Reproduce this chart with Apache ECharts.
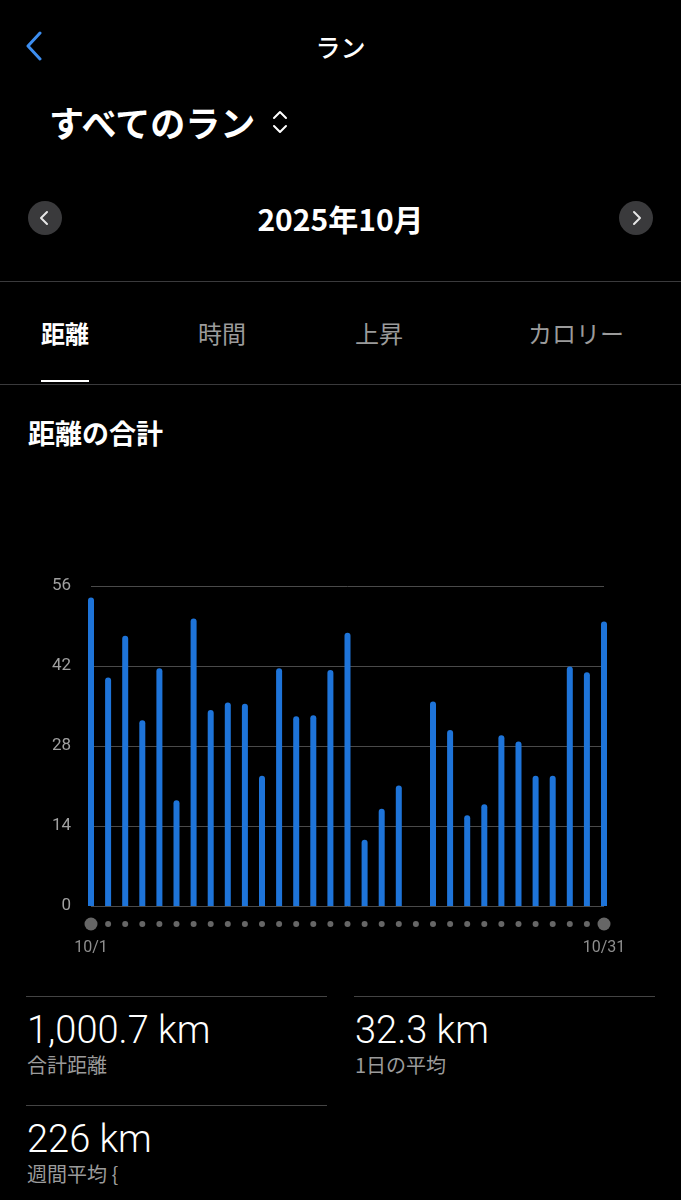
<!DOCTYPE html>
<html>
<head>
<meta charset="utf-8">
<script src="https://cdn.jsdelivr.net/npm/echarts@6/dist/echarts.min.js"></script>
<style>
  html, body { margin: 0; padding: 0; background: #000; }
  body { width: 681px; height: 1200px; position: relative; overflow: hidden;
    font-family: "Noto Sans CJK JP", Roboto, sans-serif; color: #fff; }
  .abs { position: absolute; white-space: nowrap; }
  .line { position: absolute; height: 1px; background: #3a3a3c; }
  .circle { position: absolute; width: 34px; height: 34px; border-radius: 50%; background: #3a3a3c; }
  .num { font-family: Roboto, "Noto Sans", sans-serif; font-weight: 300; font-size: 38px; line-height: 1; }
  .sub { font-size: 20px; color: #9b9b9b; line-height: 1; }
  #chart { position: absolute; left: 0; top: 460px; width: 681px; height: 520px; }
</style>
</head>
<body>
  <svg class="abs" style="left:24px;top:31px" width="20" height="30"><polyline points="16,2 4,15 16,28" fill="none" stroke="#3d8ef0" stroke-width="3" stroke-linecap="round" stroke-linejoin="round"/></svg>
  <div class="abs" style="left:0;width:681px;text-align:center;top:30px;font-size:25px;font-weight:500;line-height:32px">ラン</div>

  <div class="abs" style="left:49px;top:100px;font-size:35px;font-weight:700;line-height:44px">すべてのラン</div>
  <svg class="abs" style="left:271px;top:109px" width="18" height="26"><polyline points="3,9 9,3 15,9" fill="none" stroke="#fff" stroke-width="2" stroke-linecap="round" stroke-linejoin="round"/><polyline points="3,17 9,23 15,17" fill="none" stroke="#fff" stroke-width="2" stroke-linecap="round" stroke-linejoin="round"/></svg>

  <div class="circle" style="left:28px;top:201px"></div>
  <svg class="abs" style="left:28px;top:201px" width="34" height="34"><polyline points="19,11 13,17 19,23" fill="none" stroke="#e6e6e6" stroke-width="2" stroke-linecap="round" stroke-linejoin="round"/></svg>
  <div class="circle" style="left:619px;top:201px"></div>
  <svg class="abs" style="left:619px;top:201px" width="34" height="34"><polyline points="15,11 21,17 15,23" fill="none" stroke="#e6e6e6" stroke-width="2" stroke-linecap="round" stroke-linejoin="round"/></svg>
  <div class="abs" style="left:0;width:681px;text-align:center;top:200px;font-size:30px;font-weight:600;line-height:36px">2025年10月</div>

  <div class="line" style="left:0;width:681px;top:281px"></div>
  <div class="abs" style="left:41px;top:318px;font-size:24px;font-weight:700;line-height:30px">距離</div>
  <div class="abs" style="left:198px;top:318px;font-size:24px;color:#9b9b9b;line-height:30px">時間</div>
  <div class="abs" style="left:355px;top:318px;font-size:24px;color:#9b9b9b;line-height:30px">上昇</div>
  <div class="abs" style="left:528px;top:318px;font-size:24px;color:#9b9b9b;line-height:30px">カロリー</div>
  <div class="abs" style="left:41px;top:380px;width:48px;height:2px;background:#fff"></div>
  <div class="line" style="left:0;width:681px;top:384px"></div>

  <div class="abs" style="left:28px;top:416px;font-size:27px;font-weight:700;line-height:33px">距離の合計</div>

  <div id="chart"></div>

  <div class="line" style="left:26px;width:301px;top:996px;background:#444"></div>
  <div class="line" style="left:354px;width:301px;top:996px;background:#444"></div>
  <div class="abs num" style="left:27px;top:1011px">1,000.7 km</div>
  <div class="abs sub" style="left:27px;top:1055px">合計距離</div>
  <div class="abs num" style="left:355px;top:1011px">32.3 km</div>
  <div class="abs sub" style="left:355px;top:1055px">1日の平均</div>
  <div class="line" style="left:26px;width:301px;top:1105px;background:#444"></div>
  <div class="abs num" style="left:27px;top:1120px">226 km</div>
  <div class="abs sub" style="left:27px;top:1164px">週間平均 {</div>

<script>
// daily distance, October 2025 (km)
const days = Array.from({ length: 31 }, (_, i) => i + 1)
const dayLabels = days.map(d => `10/${d}`)
const distances = [
  54.0, 40.0, 47.3, 32.5, 41.6, 18.5, 50.3, 34.3, 35.6, 35.4,
  22.8, 41.6, 33.2, 33.4, 41.3, 47.8, 11.6, 17.0, 21.1, 0,
  35.8, 30.8, 15.9, 17.8, 29.9, 28.8, 22.8, 22.8, 41.9, 40.9, 49.8,
]
const yTicks = [0, 14, 28, 42, 56]

const chart = echarts.init(document.getElementById('chart'))
chart.setOption({
  backgroundColor: 'transparent',
  animation: false,
  grid: [
    { left: 91, right: 77, top: 126, height: 320 },
    { left: 91, right: 77, top: 454, height: 20 },
  ],
  xAxis: [
    { gridIndex: 0, type: 'value', min: 1, max: 31, show: false },
    {
      gridIndex: 1,
      type: 'category',
      boundaryGap: false,
      data: dayLabels,
      axisLine: { show: false },
      axisTick: { show: false },
      axisLabel: {
        interval: (i) => i === 0 || i === 30,
        color: '#8e8e8e',
        fontSize: 16,
        margin: 6,
        fontFamily: 'Roboto, sans-serif',
      },
    },
  ],
  yAxis: [
    {
      gridIndex: 0,
      type: 'value',
      min: yTicks[0],
      max: yTicks[yTicks.length - 1],
      interval: 14,
      axisLine: { show: false },
      axisTick: { show: false },
      axisLabel: { color: '#a0a0a0', fontSize: 17, margin: 20, fontFamily: 'Roboto, sans-serif' },
      splitLine: { lineStyle: { color: '#4a4a4a', width: 1 } },
    },
    { gridIndex: 1, type: 'value', min: -1, max: 1, show: false },
  ],
  series: [
    {
      type: 'bar',
      xAxisIndex: 0,
      yAxisIndex: 0,
      clip: false,
      barWidth: 6,
      data: days.map((d, i) => [d, distances[i]]),
      itemStyle: { color: '#1e74d9', borderRadius: [3, 3, 0, 0] },
    },
    {
      type: 'scatter',
      xAxisIndex: 1,
      yAxisIndex: 1,
      clip: false,
      data: dayLabels.map(l => [l, 0]),
      symbolSize: (v, p) => (p.dataIndex === 0 || p.dataIndex === 30 ? 13 : 6),
      itemStyle: { color: '#7f7f7f' },
    },
  ],
})
</script>
</body>
</html>
